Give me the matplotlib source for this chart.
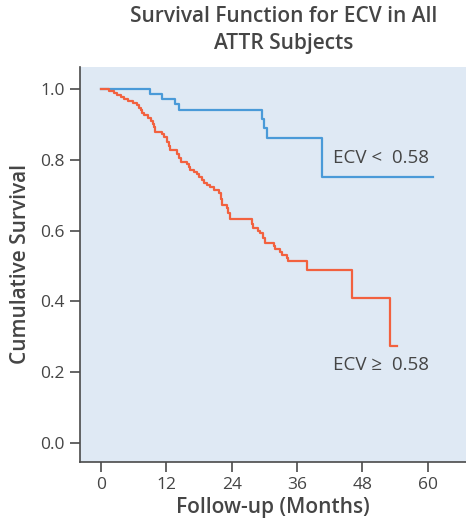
import matplotlib
matplotlib.use("Agg")
import matplotlib.pyplot as plt

plt.rcParams['font.family'] = ['Open Sans', 'DejaVu Sans']

# Kaplan-Meier step data (time in months, survival after each event)
blue_t = [0, 9.0, 11.2, 13.6, 14.4, 29.5, 30.0, 30.5, 40.6, 61.0]
blue_s = [1.0, 0.986, 0.972, 0.957, 0.942, 0.915, 0.889, 0.861, 0.753, 0.753]

red_t = [0, 1.5, 2.3, 3.0, 3.6, 4.3, 5.0, 5.8, 6.6, 7.0, 7.3, 7.6, 7.9, 8.7, 9.2, 9.5,
         9.8, 10.0, 11.2, 11.6, 12.1, 12.4, 12.7, 14.0, 14.3, 14.6, 15.8, 16.1, 16.4,
         17.0, 17.6, 18.0, 18.5, 19.0, 19.4, 20.0, 20.7, 21.6, 22.0, 22.2, 23.1, 23.4,
         23.7, 27.7, 27.9, 28.9, 29.2, 29.8, 30.1, 31.7, 32.0, 32.9, 33.2, 34.1, 34.4,
         37.8, 46.1, 53.1, 54.3]
red_s = [1.0, 0.995, 0.990, 0.984, 0.978, 0.972, 0.967, 0.961, 0.955, 0.948, 0.941,
         0.934, 0.927, 0.918, 0.910, 0.902, 0.892, 0.880, 0.872, 0.864, 0.852, 0.840,
         0.828, 0.818, 0.806, 0.795, 0.789, 0.781, 0.772, 0.767, 0.760, 0.752, 0.743,
         0.736, 0.729, 0.722, 0.715, 0.706, 0.690, 0.673, 0.665, 0.650, 0.634, 0.620,
         0.607, 0.600, 0.592, 0.578, 0.566, 0.556, 0.547, 0.540, 0.531, 0.523, 0.515,
         0.489, 0.409, 0.274, 0.274]

x_ticks = [0, 12, 24, 36, 48, 60]
y_ticks = [0.0, 0.2, 0.4, 0.6, 0.8, 1.0]
y_ticklabels = ["0.0", "0.2", "0.4", "0.6", "0.8", "1.0"]

title_lines = ["Survival Function for ECV in All", "ATTR Subjects"]
xlabel = "Follow-up (Months)"
ylabel = "Cumulative Survival"
label_low = "ECV <  0.58"
label_high = "ECV \u2265  0.58"

W, H = 466, 525
fig = plt.figure(figsize=(W / 100, H / 100), dpi=100)
fig.patch.set_facecolor("white")
L, R, T, B = 80, 466, 67, 462
ax = fig.add_axes([L / W, (H - B) / H, (R - L) / W, (B - T) / H])
ax.set_facecolor("#dfe9f4")

blue = "#4a9ad8"
red = "#f2613f"
ax.plot(blue_t, blue_s, drawstyle="steps-post", color=blue, lw=1.6)
ax.plot(red_t, red_s, drawstyle="steps-post", color=red, lw=1.6)

ax.set_xlim(-3.85, 67.0)
ax.set_ylim(-0.055, 1.063)
ax.set_xticks(x_ticks)
ax.set_yticks(y_ticks)
ax.set_yticklabels(y_ticklabels)

txt = "#454545"
for s in ["top", "right"]:
    ax.spines[s].set_visible(False)
for s in ["left", "bottom"]:
    ax.spines[s].set_color("#4a4a4a")
    ax.spines[s].set_linewidth(1.2)
ax.tick_params(axis="both", direction="out", length=7, width=1.2, color="#4a4a4a",
               labelsize=12.5, labelcolor=txt, pad=4)

ax.set_xlabel(xlabel, fontsize=15, fontweight="semibold", color=txt, labelpad=3)
ax.set_ylabel(ylabel, fontsize=15, fontweight="semibold", color=txt, labelpad=7)

ax.text(42.6, 0.806, label_low, fontsize=13.5, color=txt, va="center", ha="left")
ax.text(42.6, 0.220, label_high, fontsize=13.5, color=txt, va="center", ha="left")

fig.text(284 / W, 1 - 16 / H, title_lines[0], fontsize=15, fontweight="semibold",
         color=txt, ha="center", va="center")
fig.text(284 / W, 1 - 43 / H, title_lines[1], fontsize=15, fontweight="semibold",
         color=txt, ha="center", va="center")

fig.savefig("out.png", dpi=100)
